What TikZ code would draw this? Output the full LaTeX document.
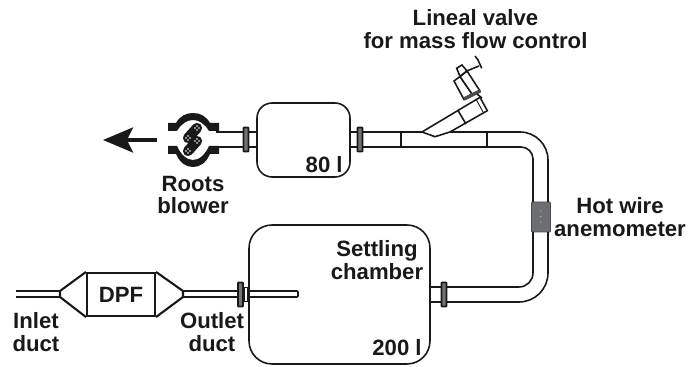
\documentclass[tikz,border=0pt]{standalone}
\usepackage{fontspec}
\setmainfont{Liberation Sans}
\usepackage{xcolor}
\usepackage{tikz}
\usetikzlibrary{calc}
\usetikzlibrary{arrows.meta}
\usetikzlibrary{shapes}
\usetikzlibrary{positioning}
\definecolor{wiregray}{HTML}{6D6E71}
\tikzset{
  pipeline/.style={draw=black!90, line width=.9pt},
  vessel/.style={rectangle, draw=black!90, line width=.9pt, rounded corners=.46cm, fill=white, inner sep=0pt},
  flange/.style={rectangle, draw=black!90, fill=black!55, line width=1pt, rounded corners=.4pt, inner sep=0pt, minimum width=.1cm, minimum height=.48cm},
  tag/.style={align=center, font=\bfseries\fontsize{12.6}{13}\selectfont, inner sep=0pt, text=black!90}
}
\begin{document}
\begin{tikzpicture}[x=.02cm, y=-.02cm]
\useasboundingbox (0, 0) rectangle (690, 367);
% vessels
\node [vessel, minimum width=1.86cm, minimum height=1.48cm, rounded corners=.3cm] (T80) at (303.5, 140) {};
\node [vessel, minimum width=3.62cm, minimum height=2.78cm] (T200) at (339.5, 294.5) {};
\node [rectangle, draw=black!90, line width=1.2pt, minimum width=1.36cm, minimum height=.86cm, inner sep=0pt] (DPF) at (121, 294.5) {};
\node [rectangle, draw=black!70, fill=wiregray, line width=.5pt, rounded corners=.5pt, minimum width=.38cm, minimum height=.6cm, inner sep=0pt] (HW) at (541, 217) {};
\foreach \y in {211, 216.5, 222}
  \fill [black!25] (540.7, \y) circle (.35pt);
% free ends and bends
\coordinate (inA) at (16, 291);
\coordinate (inB) at (16, 297);
\coordinate (coneLA) at (60, 291);
\coordinate (coneLB) at (60, 297);
\coordinate (coneRA) at (183, 291);
\coordinate (coneRB) at (183, 297);
\coordinate (outA) at (298, 291);
\coordinate (outB) at (298, 297);
\coordinate (blowA) at (216, 132);
\coordinate (blowB) at (216, 147);
\coordinate (branchA) at (422, 132);
\coordinate (branchB) at (450, 132);
% inlet and DPF
\draw [pipeline] (inA) to (coneLA);
\draw [pipeline] (inB) to (coneLB);
\draw [line width=1.2pt, draw=black!90] (DPF.north west) -- (coneLA) -- (coneLB) -- (DPF.south west);
\draw [line width=1.2pt, draw=black!90] (DPF.north east) -- (coneRA) -- (coneRB) -- (DPF.south east);
\draw [pipeline, rounded corners=.5pt] (coneRA) -- (outA) -- (outB) -- (coneRB);
\node [flange] (F1) at (240.5, 294.5) {};
\node [rectangle, draw=black!90, fill=white, line width=.8pt, inner sep=0pt, minimum width=.08cm, minimum height=.28cm] (F1b) at (246, 294.5) {};
% 80 l tank pipes
\draw [pipeline] (blowA) to (T80.west |- blowA);
\draw [pipeline] (blowB) to (T80.west |- blowB);
\draw [pipeline] (T80.east |- blowA) to (branchA);
\draw [pipeline, rounded corners=.56cm] (branchB) -- (548, 132) -- (548, 202);
\draw [pipeline, rounded corners=.24cm] (T80.east |- blowB) -- (533, 147) -- (533, 202);
\draw [pipeline, rounded corners=.58cm] (548, 232) -- (548, 302) -- (T200.east |- 430, 302);
\draw [pipeline, rounded corners=.28cm] (533, 232) -- (533, 287) -- (T200.east |- 430, 287);
\node [flange] (F2) at (246, 139.5) {};
\node [flange] (F3) at (360, 139.5) {};
\node [flange] (F4) at (444, 294.5) {};
\draw [pipeline, line width=1.1pt] (400.7, 132) -- (400.7, 147);
\draw [pipeline, line width=1.1pt] (487, 132) -- (487, 147);
% valve branch
\draw [pipeline] (branchA) -- (435, 136.7) -- (branchB);
\draw [pipeline] (branchA) -- (480, 97.3) -- (487.3, 110.7) -- (branchB);
\draw [pipeline] (457.7, 110) -- (466, 124);
\draw [pipeline, line width=.5pt] (476.5, 100) -- (483, 112);
% valve
\draw [pipeline] (454, 81) -- (460, 76.5) -- (472, 94) -- (464, 99.5) -- cycle;
\draw [pipeline, fill=white] (460, 76.5) -- (467, 71) -- (480, 91) -- (472, 94) -- cycle;
\draw [pipeline] (456.7, 68.3) -- (462, 65) -- (467, 71) -- (460, 76.5) -- cycle;
\draw [line width=2pt, draw=black!70] (464, 99) -- (480, 91);
\draw [pipeline] (465, 71.7) -- (479, 66);
\draw [pipeline] (475, 56) -- (478, 60) -- (481.7, 68.3);
\draw [pipeline] (477, 94) -- (482, 98);
% blower
\fill [black!90] (168, 123) -- (176, 123) .. controls (180, 116) and (186, 113) .. (193, 113) .. controls (200, 113) and (206, 116) .. (210, 123) -- (219, 123) -- (219, 131) -- (209, 131) .. controls (205, 124) and (199, 120) .. (193, 120) .. controls (187, 120) and (181, 124) .. (177, 131) -- (168, 131) -- cycle;
\fill [black!90] (168, 146) -- (177, 146) .. controls (181, 155) and (187, 160) .. (193, 160) .. controls (199, 160) and (205, 155) .. (209, 146) -- (219, 146) -- (219, 154) -- (210, 154) .. controls (206, 163) and (200, 167) .. (193, 167) .. controls (186, 167) and (180, 163) .. (176, 154) -- (168, 154) -- cycle;
\draw [line width=5.8pt, line cap=round, draw=black!90] (188, 138) -- (197, 128);
\draw [line width=5.8pt, line cap=round, draw=black!90] (197, 141) -- (188, 151);
\foreach \x/\y in {188/138, 197/128, 197/141, 188/151}
  \foreach \dx/\dy in {-2/0, 2/0, 0/-2, 0/2}
    \fill [white] (\x + \dx, \y + \dy) circle (.45pt);
\coordinate (ventA) at (157, 140);
\coordinate (ventB) at (103, 140);
\draw [-{Stealth[length=.6cm, width=.5cm, inset=.12cm]}, line width=1.9pt, draw=black!90] (ventA) to (ventB);
% labels
\node [tag] (LV) at (475.5, 29) {Lineal valve\\for mass flow control};
\node [tag] (RB) at (193, 195) {Roots\\blower};
\node [tag, anchor=base east] (V80) at (343, 173) {80 l};
\node [tag] (SC) at (377, 260) {Settling\\chamber};
\node [tag, anchor=base east] (V200) at (422, 356) {200 l};
\node [tag] (HWA) at (620, 217) {Hot wire\\anemometer};
\node [tag] (DPFT) at (121, 294.5) {DPF};
\node [tag] (IN) at (36, 332) {Inlet\\duct};
\node [tag] (OUT) at (212, 332) {Outlet\\duct};
\end{tikzpicture}
\end{document}
